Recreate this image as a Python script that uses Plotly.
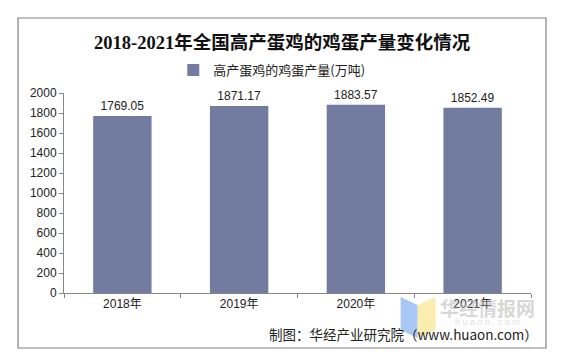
import plotly.graph_objects as go

years = ["2018年", "2019年", "2020年", "2021年"]
values = [1769.05, 1871.17, 1883.57, 1852.49]
labels = ["1769.05", "1871.17", "1883.57", "1852.49"]
series_name = "高产蛋鸡的鸡蛋产量(万吨)"
title_text = "2018-2021年全国高产蛋鸡的鸡蛋产量变化情况"
source_text = "制图：华经产业研究院（www.huaon.com）"

W, H = 566, 362
OFF = 8  # page body margin in the browser
# target plot area in screen pixels
X0, X1, Y0, Y1 = 64, 531.5, 93, 293
L = X0 - OFF
T = Y0 - OFF
R = W - (X1 - OFF)
B = H - (Y1 - OFF)
pw = X1 - X0
ph = Y1 - Y0

def px_x(x):
    return (x - X0) / pw

def px_y(y):
    return (Y1 - y) / ph

fig = go.Figure()
fig.add_trace(go.Bar(
    x=years, y=values, name=series_name,
    marker=dict(color="#727ba0", line=dict(width=0)),
    width=0.5,
    text=labels, textposition="outside",
    textfont=dict(family="Liberation Sans, Arial", size=12, color="#222"),
    cliponaxis=False,
    showlegend=True,
))

fig.update_layout(
    width=W, height=H,
    margin=dict(l=L, r=R, t=T, b=B, autoexpand=False),
    paper_bgcolor="white", plot_bgcolor="white",
    font=dict(family="Liberation Sans, Noto Sans CJK SC", size=12, color="#222"),
    showlegend=True,
    legend=dict(
        orientation="h", xref="paper", yref="paper",
        x=px_x(272), y=px_y(70), xanchor="center", yanchor="middle",
        font=dict(family="Noto Sans CJK SC", size=13, color="#222"),
        itemwidth=30, bgcolor="rgba(0,0,0,0)",
    ),
    bargap=0.5,
    xaxis=dict(
        showline=True, linecolor="#868686", linewidth=1,
        ticks="outside", ticklen=4, tickcolor="#868686",
        tickson="boundaries",
        tickfont=dict(family="Liberation Sans, Noto Sans CJK SC", size=12, color="#222"),
        showgrid=False,
    ),
    yaxis=dict(
        range=[0, 2000], dtick=200,
        showline=True, linecolor="#868686", linewidth=1,
        ticks="outside", ticklen=4, tickcolor="#868686",
        showgrid=False, zeroline=False,
        tickfont=dict(family="Liberation Sans", size=12, color="#222"),
    ),
)

# outer border
fig.add_shape(type="rect", xref="paper", yref="paper",
              x0=px_x(18), x1=px_x(546.5), y0=px_y(348), y1=px_y(18),
              line=dict(color="#808080", width=1.2), fillcolor="rgba(0,0,0,0)", layer="below")

# title
fig.add_annotation(xref="paper", yref="paper", x=px_x(283), y=px_y(42),
                   text="<b>" + title_text + "</b>", showarrow=False,
                   xanchor="center", yanchor="middle",
                   font=dict(family="Liberation Serif, Noto Sans CJK SC", size=18.5, color="#111"))

# watermark logo
fig.add_shape(type="path", xref="paper", yref="paper",
              path=f"M {px_x(401)},{px_y(297)} L {px_x(418)},{px_y(305)} L {px_x(418)},{px_y(338)} L {px_x(401)},{px_y(330)} Z",
              fillcolor="rgba(140,180,240,0.75)", line=dict(width=0), layer="below")
fig.add_shape(type="path", xref="paper", yref="paper",
              path=f"M {px_x(418)},{px_y(305)} L {px_x(436)},{px_y(297)} L {px_x(436)},{px_y(330)} L {px_x(418)},{px_y(338)} Z",
              fillcolor="rgba(250,230,150,0.75)", line=dict(width=0), layer="below")
fig.add_annotation(xref="paper", yref="paper", x=px_x(488), y=px_y(307),
                   text="<b>华经情报网</b>", showarrow=False, xanchor="center", yanchor="middle",
                   font=dict(family="Noto Sans CJK SC", size=19, color="rgba(180,180,180,0.55)"))
fig.add_annotation(xref="paper", yref="paper", x=px_x(488), y=px_y(322),
                   text="h u a o n . c o m", showarrow=False, xanchor="center", yanchor="middle",
                   font=dict(family="Liberation Sans", size=9, color="rgba(200,200,200,0.6)"))

# source
fig.add_annotation(xref="paper", yref="paper", x=px_x(541), y=px_y(334),
                   text=source_text, showarrow=False, xanchor="right", yanchor="middle",
                   font=dict(family="Noto Sans CJK SC, Liberation Sans", size=13.5, color="#222"))

fig.write_html("out.html")
